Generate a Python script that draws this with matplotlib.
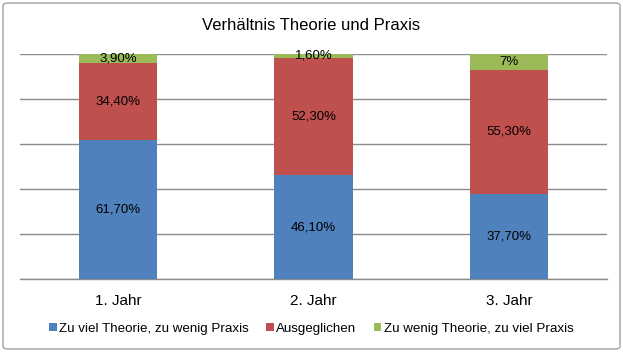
import matplotlib.pyplot as plt
from matplotlib.patches import FancyBboxPatch

plt.rcParams['font.family'] = ['Liberation Sans', 'DejaVu Sans']

# data
jahre = ["1. Jahr", "2. Jahr", "3. Jahr"]
zu_viel_theorie = [61.7, 46.1, 37.7]
ausgeglichen = [34.4, 52.3, 55.3]
zu_wenig_theorie = [3.9, 1.6, 7.0]
labels_blau = ["61,70%", "46,10%", "37,70%"]
labels_rot = ["34,40%", "52,30%", "55,30%"]
labels_gruen = ["3,90%", "1,60%", "7%"]
serien = ["Zu viel Theorie, zu wenig Praxis", "Ausgeglichen", "Zu wenig Theorie, zu viel Praxis"]
farben = ["#4F81BD", "#C0504D", "#9BBB59"]

fig = plt.figure(figsize=(6.23, 3.52), dpi=100)
ax = fig.add_axes([20 / 623, 1 - 279 / 352, 587 / 623, 225 / 352])

x = range(len(jahre))
unten = [0, 0, 0]
for werte, labs, farbe, name in zip([zu_viel_theorie, ausgeglichen, zu_wenig_theorie],
                                   [labels_blau, labels_rot, labels_gruen], farben, serien):
    bars = ax.bar(x, werte, 0.4, bottom=unten, color=farbe, label=name, zorder=3)
    ax.bar_label(bars, labels=labs, label_type='center', fontsize=9.5, color='black')
    unten = [u + w for u, w in zip(unten, werte)]

ax.set_xlim(-0.5, 2.5)
ax.set_ylim(0, 100)
ax.set_yticks([0, 20, 40, 60, 80, 100])
ax.yaxis.grid(True, color='#8c8c8c', linewidth=1, zorder=0)
ax.tick_params(axis='y', left=False, labelleft=False)
ax.tick_params(axis='x', bottom=False, labelsize=11, pad=7)
ax.set_xticks(list(x))
ax.set_xticklabels(jahre)
for s in ['top', 'right', 'left']:
    ax.spines[s].set_visible(False)
ax.spines['bottom'].set_color('#8c8c8c')
ax.spines['bottom'].set_linewidth(1)

fig.text(0.5, 1 - 26 / 352, "Verhältnis Theorie und Praxis", ha='center', va='center', fontsize=12)

fig.legend(loc='center', bbox_to_anchor=(0.5, 1 - 329 / 352), ncol=3, frameon=False,
           fontsize=9.6, handlelength=0.55, handleheight=0.55, handletextpad=0.2, columnspacing=1.3)

rahmen = FancyBboxPatch((3 / 623, 3 / 352), 617 / 623, 346 / 352, boxstyle="round,pad=0,rounding_size=0.008",
                        transform=fig.transFigure, fill=False, edgecolor='#a0a0a0', linewidth=1)
fig.patches.append(rahmen)

fig.savefig("out.png", dpi=100)
